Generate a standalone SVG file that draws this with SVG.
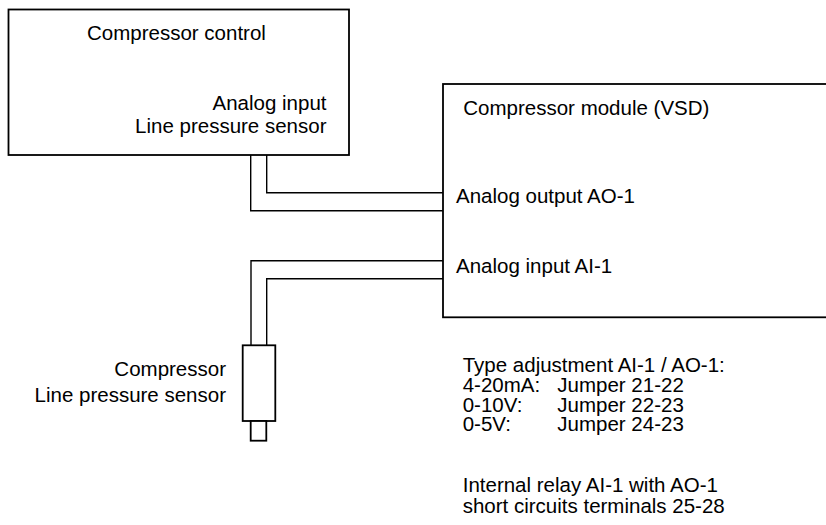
<svg xmlns="http://www.w3.org/2000/svg" width="826" height="525" viewBox="0 0 826 525">
<style>
.box{fill:#fff;stroke:#000;stroke-width:1.8}
.w{fill:none;stroke:#000;stroke-width:1.4}
text{font-family:"Liberation Sans",Arial,sans-serif;font-size:20.5px;fill:#000}
.r{text-anchor:end}
</style>
<rect width="826" height="525" fill="#fff"/>
<g id="connectors">
<polyline class="w" points="250.7,155 250.7,210.7 443,210.7"/>
<polyline class="w" points="266.7,155 266.7,192.7 443,192.7"/>
<polyline class="w" points="443,260.7 251,260.7 251,345.3"/>
<polyline class="w" points="443,278.7 266.7,278.7 266.7,345.3"/>
</g>
<g id="compressor-control">
<rect class="box" x="8.5" y="9.5" width="340.5" height="145.5"/>
<text x="87" y="39.5">Compressor control</text>
<text class="r" x="326.5" y="110">Analog input</text>
<text class="r" x="326.5" y="132.5">Line pressure sensor</text>
</g>
<g id="compressor-module">
<rect class="box" x="443" y="84" width="400" height="233.3"/>
<text x="463.3" y="115">Compressor module (VSD)</text>
<text x="456" y="203">Analog output AO-1</text>
<text x="456" y="273">Analog input AI-1</text>
</g>
<g id="sensor">
<rect class="box" x="242.7" y="345.3" width="32.6" height="75.7"/>
<rect class="box" x="250.7" y="421" width="15.6" height="19.7"/>
<text class="r" x="226" y="376">Compressor</text>
<text class="r" x="226" y="401.7">Line pressure sensor</text>
</g>
<g id="notes">
<text x="462.7" y="372">Type adjustment AI-1 / AO-1:</text>
<text x="462.7" y="392">4-20mA:</text>
<text x="557.3" y="392">Jumper 21-22</text>
<text x="462.7" y="411.5">0-10V:</text>
<text x="557.3" y="411.5">Jumper 22-23</text>
<text x="462.7" y="431">0-5V:</text>
<text x="557.3" y="431">Jumper 24-23</text>
<text x="462.7" y="492">Internal relay AI-1 with AO-1</text>
<text x="462.7" y="513">short circuits terminals 25-28</text>
</g>
</svg>
